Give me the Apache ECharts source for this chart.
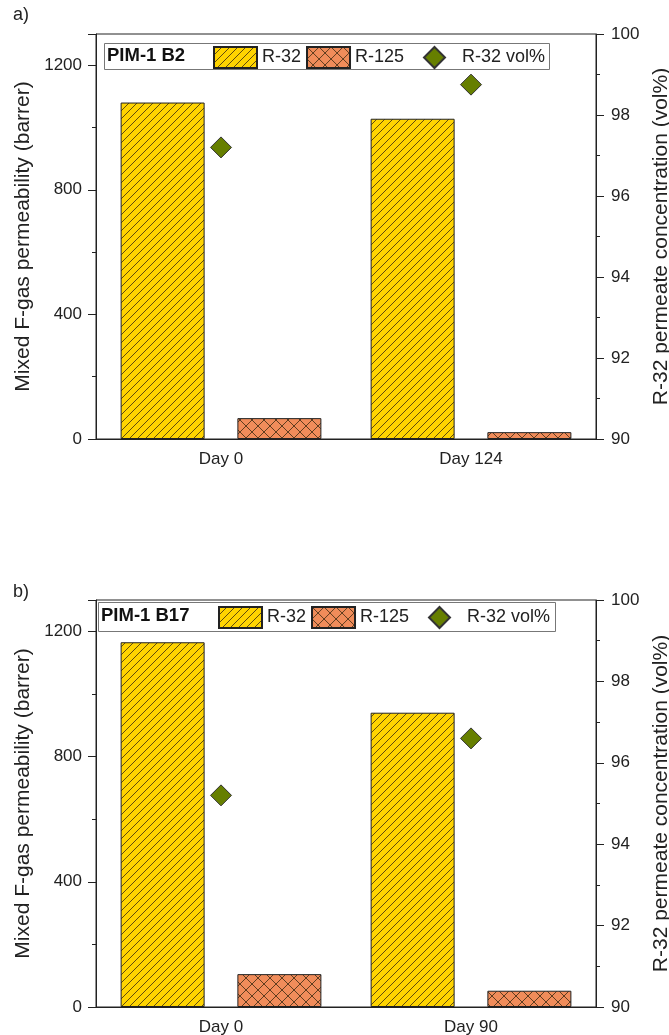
<!DOCTYPE html>
<html>
<head>
<meta charset="utf-8">
<script src="https://cdn.jsdelivr.net/npm/echarts@6/dist/echarts.min.js"></script>
<style>
html, body { margin: 0; padding: 0; background: #fff; }
#chart { width: 669px; height: 1035px; }
</style>
</head>
<body>
<div id="chart"></div>
<script>
// data
var daysA = ['Day 0', 'Day 124'];
var r32A = [1080, 1028];
var r125A = [67, 22];
var volA = [97.2, 98.75];

var daysB = ['Day 0', 'Day 90'];
var r32B = [1165, 940];
var r125B = [105, 52];
var volB = [95.2, 96.6];

var labelA = 'PIM-1 B2';
var labelB = 'PIM-1 B17';

// hatch fill patterns
function hatch(bg, cross, step) {
    var c = document.createElement('canvas');
    c.width = step;
    c.height = step;
    var ctx = c.getContext('2d');
    ctx.fillStyle = bg;
    ctx.fillRect(0, 0, step, step);
    ctx.strokeStyle = '#3a2a10';
    ctx.lineWidth = 0.8;
    ctx.beginPath();
    ctx.moveTo(-1, step + 1); ctx.lineTo(step + 1, -1);
    if (cross) {
        ctx.moveTo(-1, -1); ctx.lineTo(step + 1, step + 1);
    }
    ctx.stroke();
    return { image: c, repeat: 'repeat' };
}
var yellowFill = hatch('#FFD400', false, 8);
var orangeFill = hatch('#F08C5A', true, 12);

var font = 'Liberation Sans, Arial, sans-serif';
var ink = '#222';

function yLeft(gi) {
    return {
        type: 'value', gridIndex: gi, min: 0, max: 1300, interval: 400,
        name: 'Mixed F-gas permeability (barrer)', nameLocation: 'middle', nameGap: 55, nameRotate: 90,
        nameTextStyle: { fontSize: 21, color: ink, fontFamily: font },
        axisLine: { show: true, lineStyle: { color: ink } },
        axisTick: { show: true, length: 8, lineStyle: { color: ink } },
        minorTick: { show: true, splitNumber: 2, length: 4, lineStyle: { color: ink } },
        axisLabel: { fontSize: 17, color: ink, fontFamily: font, margin: 14, showMaxLabel: false,
            formatter: function (v) { return String(v); } },
        splitLine: { show: false }
    };
}
function yRight(gi) {
    return {
        type: 'value', gridIndex: gi, position: 'right', min: 90, max: 100, interval: 2,
        name: 'R-32 permeate concentration (vol%)', nameLocation: 'middle', nameGap: 40, nameRotate: 90,
        nameTextStyle: { fontSize: 21, color: ink, fontFamily: font },
        axisLine: { show: true, lineStyle: { color: ink } },
        axisTick: { show: true, length: 8, lineStyle: { color: ink } },
        minorTick: { show: true, splitNumber: 2, length: 4, lineStyle: { color: ink } },
        axisLabel: { fontSize: 17, color: ink, fontFamily: font, margin: 15 },
        splitLine: { show: false }
    };
}
function xAx(gi, cats) {
    return {
        type: 'category', gridIndex: gi, data: cats,
        axisLine: { lineStyle: { color: ink } },
        axisTick: { alignWithLabel: true, length: 8, lineStyle: { color: ink } },
        axisLabel: { fontSize: 17, color: ink, fontFamily: font, margin: 12 }
    };
}
function barS(name, data, gi, fill) {
    return {
        name: name, type: 'bar', xAxisIndex: gi, yAxisIndex: gi * 2, data: data,
        barWidth: 84, barGap: '39%',
        itemStyle: { color: fill, borderColor: ink, borderWidth: 1 }
    };
}
function volS(data, gi) {
    return {
        name: 'R-32 vol%', type: 'scatter', xAxisIndex: gi, yAxisIndex: gi * 2 + 1, data: data,
        symbol: 'diamond', symbolSize: 21,
        itemStyle: { color: '#667F00', borderColor: '#333', borderWidth: 1, opacity: 1 }
    };
}
function barLegend(left, top) {
    return {
        left: left, top: top, padding: 0, z: 10,
        itemWidth: 43, itemHeight: 21, itemGap: 5,
        icon: 'rect',
        textStyle: { fontSize: 18, color: ink, fontFamily: font },
        data: ['R-32', 'R-125']
    };
}
function volLegend(left, top) {
    return {
        left: left, top: top, padding: 0, z: 10,
        itemWidth: 21, itemHeight: 21,
        icon: 'diamond',
        textStyle: { fontSize: 18, color: ink, fontFamily: font, padding: [0, 0, 0, 12] },
        data: ['R-32 vol%']
    };
}
function legendBox(x, y, w, h) {
    return { type: 'rect', left: x, top: y, shape: { width: w, height: h },
        style: { fill: '#fff', stroke: '#777', lineWidth: 1 }, z: 3 };
}

var chart = echarts.init(document.getElementById('chart'));
chart.setOption({
    animation: false,
    title: [
        { text: 'a)', left: 8, top: 1, textStyle: { fontSize: 18, fontWeight: 'normal', color: ink, fontFamily: font } },
        { text: 'b)', left: 8, top: 578, textStyle: { fontSize: 18, fontWeight: 'normal', color: ink, fontFamily: font } },
        { text: labelA, left: 107, top: 46, padding: 0, z: 10, textStyle: { fontSize: 18.5, fontWeight: 'bold', color: '#111', fontFamily: font } },
        { text: labelB, left: 101, top: 606, padding: 0, z: 10, textStyle: { fontSize: 18.5, fontWeight: 'bold', color: '#111', fontFamily: font } }
    ],
    graphic: [legendBox(104, 43, 445, 26), legendBox(98, 602, 457, 29)],
    legend: [barLegend(213, 46), volLegend(423, 46), barLegend(218, 606), volLegend(428, 606)],
    grid: [
        { left: 96, top: 34, width: 500, height: 405, show: true, borderColor: ink, borderWidth: 1, outerBoundsMode: 'none' },
        { left: 96, top: 600, width: 500, height: 407, show: true, borderColor: ink, borderWidth: 1, outerBoundsMode: 'none' }
    ],
    xAxis: [xAx(0, daysA), xAx(1, daysB)],
    yAxis: [yLeft(0), yRight(0), yLeft(1), yRight(1)],
    series: [
        barS('R-32', r32A, 0, yellowFill),
        barS('R-125', r125A, 0, orangeFill),
        volS(volA, 0),
        barS('R-32', r32B, 1, yellowFill),
        barS('R-125', r125B, 1, orangeFill),
        volS(volB, 1)
    ]
});
</script>
</body>
</html>
